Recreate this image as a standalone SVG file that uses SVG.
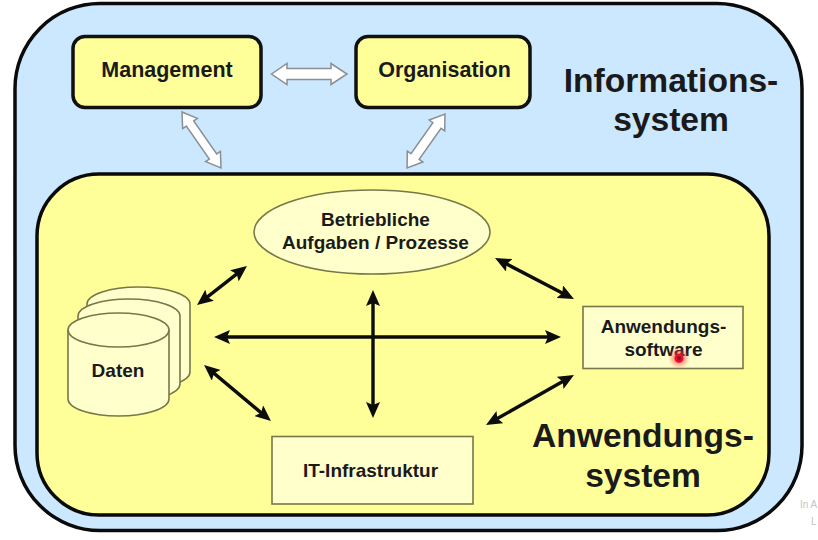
<svg xmlns="http://www.w3.org/2000/svg" width="818" height="540" viewBox="0 0 818 540">
  <defs>
    <style>
      text { font-family: "Liberation Sans", Arial, sans-serif; font-weight: bold; fill: #1a1a1a; text-anchor: middle; }
      .big { font-size: 33.6px; }
      .mid { font-size: 21.5px; }
      .small { font-size: 19px; }
      .head { fill: #FFFF99; stroke: #111; stroke-width: 3.5; }
      .item { fill: #FFFFCC; stroke: #77774A; stroke-width: 1.6; }
      .wide { fill: #fff; stroke: #8a8f94; stroke-width: 1.5; stroke-linejoin: miter; }
      .link { fill: none; stroke: #0c0c0c; stroke-width: 3.4; marker-start: url(#tip); marker-end: url(#tip); }
      .mark { font-size: 10px; font-weight: normal; fill: #c4c4c4; text-anchor: start; }
    </style>
    <marker id="tip" markerUnits="userSpaceOnUse" markerWidth="16" markerHeight="14" viewBox="0 0 16 14" refX="6" refY="7" orient="auto-start-reverse">
      <path d="M0,0 L16,7 L0,14 L3,7 z" fill="#0c0c0c"/>
    </marker>
    <radialGradient id="glow">
      <stop offset="0.35" stop-color="#ff3030" stop-opacity="0.6"/>
      <stop offset="1" stop-color="#ff6060" stop-opacity="0"/>
    </radialGradient>
  </defs>
  <rect width="818" height="540" fill="#fff"/>
  <g id="informationssystem">
    <rect x="15" y="3.500" width="787" height="527" rx="85" ry="85" fill="#CCE8FF" stroke="#0a0a0a" stroke-width="3.500"/>
    <text class="big" x="671" y="92">Informations-</text>
    <text class="big" x="671" y="131">system</text>
  </g>
  <g id="anwendungssystem">
    <rect x="37" y="174" width="732" height="341" rx="62" ry="62" fill="#FFFF99" stroke="#0a0a0a" stroke-width="3.500"/>
    <text class="big" x="643" y="447">Anwendungs-</text>
    <text class="big" x="643" y="487">system</text>
  </g>
  <g id="management">
    <rect class="head" x="73" y="36.500" width="188" height="71" rx="12"/>
    <text class="mid" x="167" y="77">Management</text>
  </g>
  <g id="organisation">
    <rect class="head" x="356" y="36.500" width="174" height="71" rx="12"/>
    <text class="mid" x="444.500" y="77">Organisation</text>
  </g>
  <g id="prozesse">
    <ellipse class="item" cx="372" cy="232" rx="118" ry="42"/>
    <text class="small" x="375.500" y="226">Betriebliche</text>
    <text class="small" x="375.500" y="249">Aufgaben / Prozesse</text>
  </g>
  <g id="daten">
    <path class="item" d="M87,304 A51.500,17 0 0 1 190,304 V372 A51.500,17 0 0 1 87,372 Z"/>
    <path class="item" d="M78,316 A51,17 0 0 1 180,316 V384 A51,17 0 0 1 78,384 Z"/>
    <path class="item" d="M68,330 A50.500,17 0 0 1 169,330 V399 A50.500,17 0 0 1 68,399 Z"/>
    <path fill="none" stroke="#77774A" stroke-width="1.600" d="M68,330 A50.500,17 0 0 0 169,330"/>
    <text class="small" x="118" y="377">Daten</text>
  </g>
  <g id="anwendungssoftware">
    <rect class="item" x="583" y="306.500" width="160" height="62"/>
    <text class="small" x="663.500" y="333">Anwendungs-</text>
    <text class="small" x="663.500" y="356">software</text>
  </g>
  <g id="it-infrastruktur">
    <rect class="item" x="272" y="436.500" width="201" height="67.500"/>
    <text class="small" x="370.500" y="477">IT-Infrastruktur</text>
  </g>
  <g id="connectors">
    <path class="wide" d="M271.500,74 L287,63.500 V68.500 H331 V63.500 L347,74 L331,84.500 V79.500 H287 V84.500 Z"/>
    <polygon class="wide" transform="translate(182,112) rotate(55.100)" points="0,0 14,-9 14,-4.500 54.200,-4.500 54.200,-9 68.200,0 54.200,9 54.200,4.500 14,4.500 14,9"/>
    <polygon class="wide" transform="translate(445,114) rotate(125.100)" points="0,0 14,-9.500 14,-5 52,-5 52,-9.500 66,0 52,9.500 52,5 14,5 14,9.500"/>
    <line class="link" x1="204.900" y1="298.850" x2="239.100" y2="272.150"/>
    <line class="link" x1="224" y1="337" x2="551" y2="337"/>
    <line class="link" x1="373" y1="300" x2="373" y2="408"/>
    <line class="link" x1="211.700" y1="371.400" x2="263.300" y2="414.600"/>
    <line class="link" x1="503.900" y1="262.600" x2="565.100" y2="294.400"/>
    <line class="link" x1="494.700" y1="420.100" x2="565.300" y2="379.900"/>
  </g>
  <circle cx="679" cy="358" r="11" fill="url(#glow)"/>
  <circle cx="679" cy="358.300" r="3.300" fill="#90102a" stroke="#e8102f" stroke-width="2.400"/>
  <text class="mark" x="800" y="508">In A</text>
  <text class="mark" x="811" y="525">L</text>
</svg>
